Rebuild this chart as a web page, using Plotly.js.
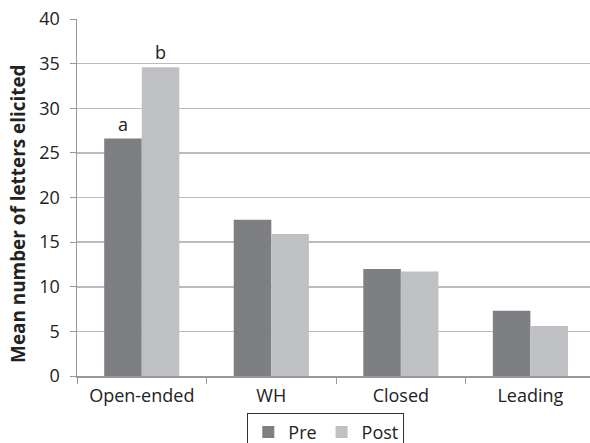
<!DOCTYPE html>
<html><head><meta charset="utf-8">
<script src="https://cdn.plot.ly/plotly-3.0.1.min.js"></script>
<style>html,body{margin:0;padding:0;background:#fff}</style>
</head><body><div id="c" style="width:590px;height:443px"></div>
<script>
const categories = ["Open-ended", "WH", "Closed", "Leading"];
const preValues = [26.6, 17.5, 12.0, 7.3];
const postValues = [34.6, 15.9, 11.7, 5.6];
const preLabels = ["a", "", "", ""];
const postLabels = ["b", "", "", ""];
const yTitle = "Mean number of letters elicited";

const font = "'Open Sans', 'Noto Sans', sans-serif";
const traces = [
  {type: "bar", name: "Pre", x: categories, y: preValues, marker: {color: "#7e7f83"},
   text: preLabels, textposition: "outside", textfont: {size: 18, color: "#222", family: font}, cliponaxis: false},
  {type: "bar", name: "Post", x: categories, y: postValues, marker: {color: "#bfc0c4"},
   text: postLabels, textposition: "outside", textfont: {size: 18, color: "#222", family: font}, cliponaxis: false}
];
const layout = {
  width: 590, height: 443,
  margin: {l: 77, r: 0, t: 19, b: 67, autoexpand: false},
  paper_bgcolor: "#fff", plot_bgcolor: "#fff",
  font: {family: font, size: 18, color: "#222"},
  barmode: "group", bargap: 0.42, bargroupgap: 0,
  showlegend: true,
  legend: {orientation: "h", x: 0.485, xanchor: "center", y: -0.103, yanchor: "top",
    bordercolor: "#333", borderwidth: 1, font: {size: 18, family: font, color: "#222"},
    itemwidth: 30, tracegroupgap: 0},
  xaxis: {type: "category", range: [-0.5, 3.46], tickson: "boundaries", ticks: "outside",
    ticklen: 6, tickcolor: "#999", showline: true, linecolor: "#999", linewidth: 1.5,
    showgrid: false, tickfont: {size: 18}, ticklabelstandoff: 3},
  yaxis: {range: [0, 40], dtick: 5, ticks: "outside", ticklen: 6, tickcolor: "#999",
    showline: true, linecolor: "#999", linewidth: 1.5, gridcolor: "#bbbbbb", gridwidth: 1.5,
    zeroline: false, tickfont: {size: 18}, ticklabelstandoff: 6},
  annotations: [{text: "<b>" + yTitle + "</b>", xref: "paper", yref: "paper", x: -0.115, y: 0.454,
    xanchor: "center", yanchor: "middle", textangle: -90, showarrow: false,
    font: {size: 18.9, family: font, color: "#222"}}]
};
Plotly.newPlot("c", traces, layout, {displayModeBar: false, staticPlot: true});
</script></body></html>
